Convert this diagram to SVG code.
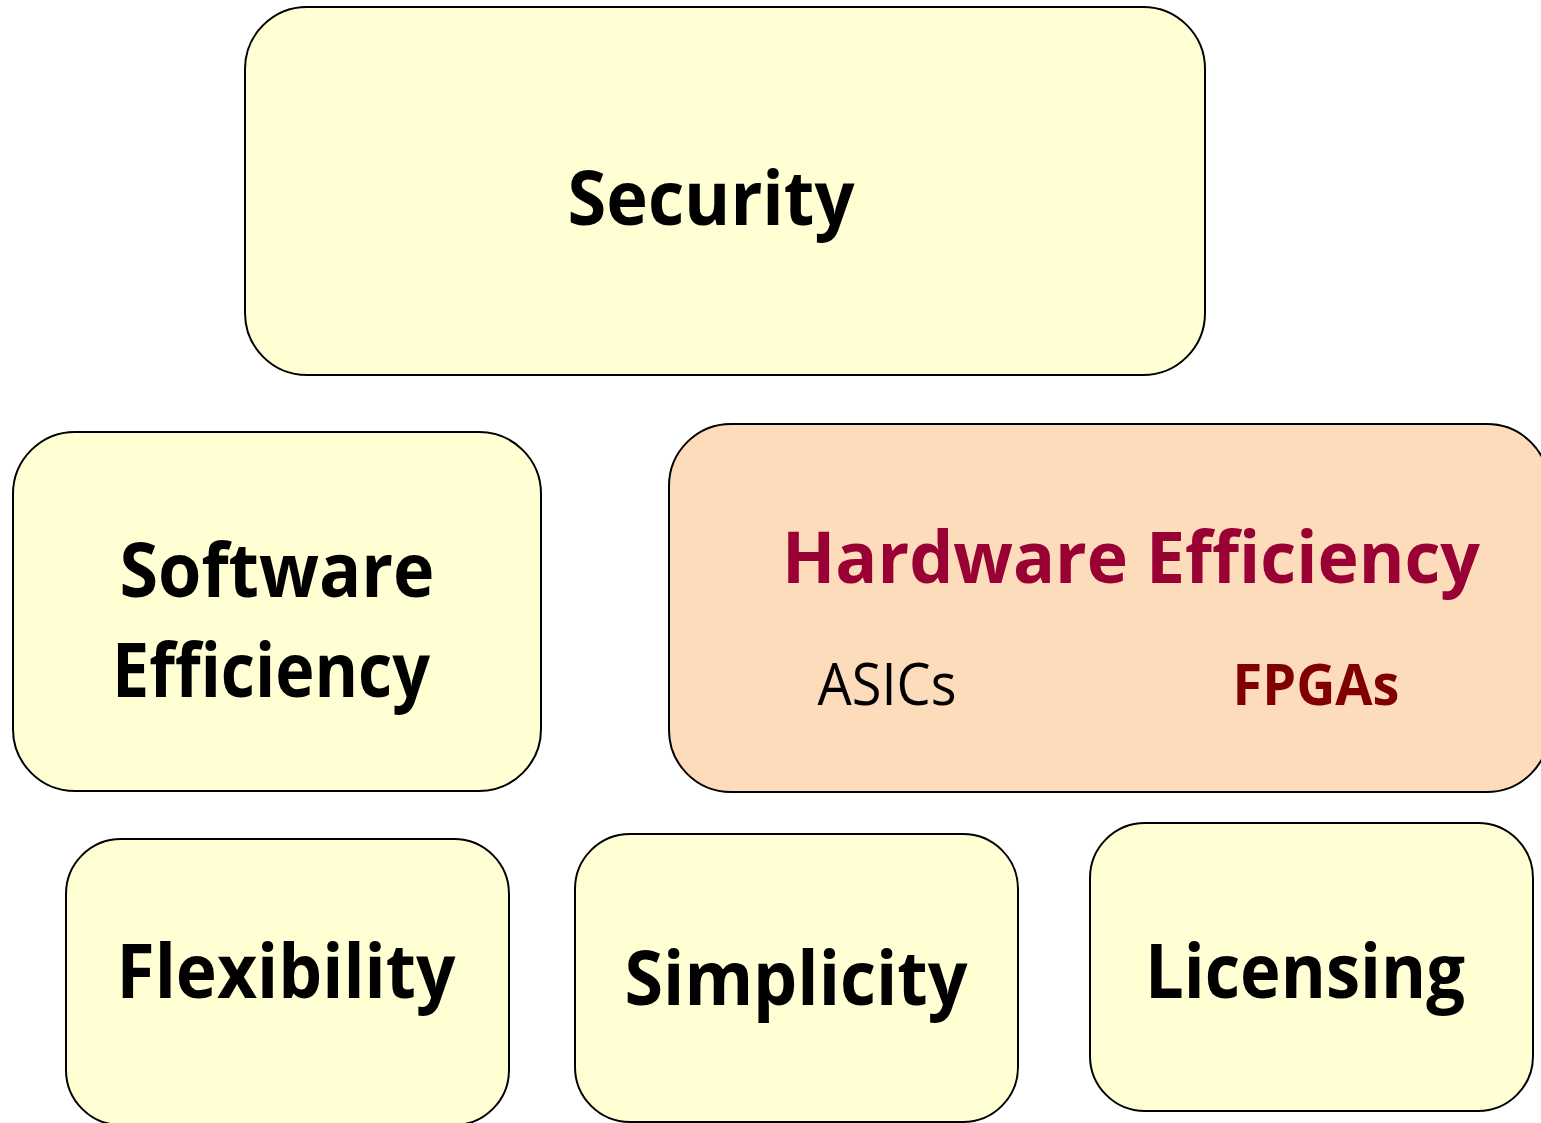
<svg xmlns="http://www.w3.org/2000/svg" width="1541" height="1123" viewBox="0 0 1541 1123">
<style>
.box{fill:#ffffd3;stroke:#000;stroke-width:2}
.hw{fill:#fddcbb;stroke:#000;stroke-width:2}
.t{font-family:"Open Sans","Liberation Sans",sans-serif;font-weight:bold;font-size:76px;fill:#000;text-anchor:middle}
</style>
<rect width="1541" height="1123" fill="#fff"/>
<g id="security">
<rect class="box" x="245" y="7" width="960" height="368" rx="62"/>
<text class="t" x="711" y="225" textLength="287" lengthAdjust="spacingAndGlyphs">Security</text>
</g>
<g id="software">
<rect class="box" x="13" y="432" width="528" height="359" rx="62"/>
<text class="t" x="277" y="597" textLength="315" lengthAdjust="spacingAndGlyphs">Software</text>
<text class="t" x="271" y="697" textLength="318" lengthAdjust="spacingAndGlyphs">Efficiency</text>
</g>
<g id="hardware">
<rect class="hw" x="669" y="424" width="880" height="368" rx="62"/>
<text class="t" x="1131" y="583" font-size="72" style="fill:#990033;font-size:72px" textLength="698" lengthAdjust="spacingAndGlyphs">Hardware Efficiency</text>
<text x="887" y="705" font-family="'Open Sans','Liberation Sans',sans-serif" font-size="58" text-anchor="middle" fill="#000" textLength="139" lengthAdjust="spacingAndGlyphs">ASICs</text>
<text x="1316" y="705" font-family="'Open Sans','Liberation Sans',sans-serif" font-weight="bold" font-size="58" text-anchor="middle" fill="#800000" textLength="167" lengthAdjust="spacingAndGlyphs">FPGAs</text>
</g>
<g id="flexibility">
<rect class="box" x="66" y="839" width="443" height="286" rx="55"/>
<text class="t" x="286" y="998" textLength="339" lengthAdjust="spacingAndGlyphs">Flexibility</text>
</g>
<g id="simplicity">
<rect class="box" x="575" y="834" width="443" height="288" rx="55"/>
<text class="t" x="796" y="1005" textLength="343" lengthAdjust="spacingAndGlyphs">Simplicity</text>
</g>
<g id="licensing">
<rect class="box" x="1090" y="823" width="443" height="288" rx="55"/>
<text class="t" x="1305" y="998" textLength="320" lengthAdjust="spacingAndGlyphs">Licensing</text>
</g>
<g id="connectors"/>
</svg>
